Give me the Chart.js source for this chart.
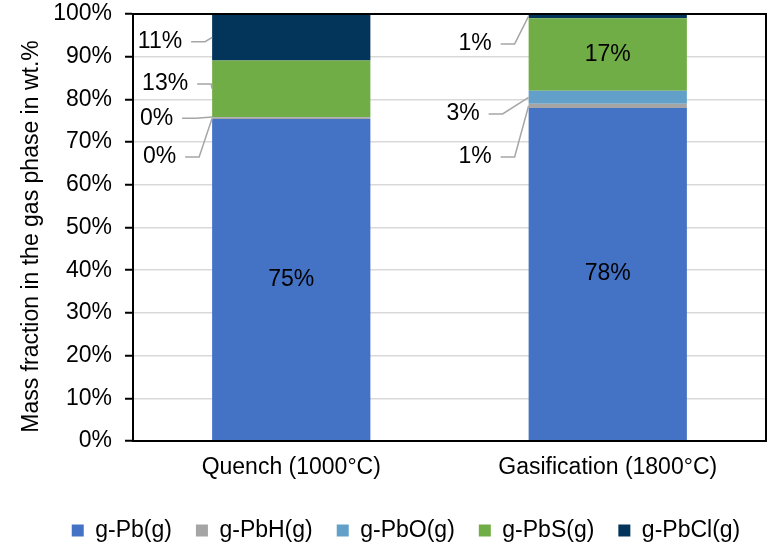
<!DOCTYPE html>
<html>
<head>
<meta charset="utf-8">
<script src="https://cdn.jsdelivr.net/npm/chart.js@4/dist/chart.umd.min.js"></script>
<style>
  html, body { margin: 0; padding: 0; background: #fff; }
  #wrap { width: 769px; height: 545px; }
</style>
</head>
<body>
<div id="wrap"><canvas id="c"></canvas></div>
<script>
// Lead species in the gas phase, wt.% per process stage
const categories = ['Quench (1000°C)', 'Gasification (1800°C)'];
const seriesNames = ['g-Pb(g)', 'g-PbH(g)', 'g-PbO(g)', 'g-PbS(g)', 'g-PbCl(g)'];
const pb   = [75.4, 78.0];
const pbh  = [0.4, 1.0];
const pbo  = [0.1, 3.0];
const pbs  = [13.2, 17.0];
const pbcl = [10.9, 1.0];
const yTickValues = [0, 10, 20, 30, 40, 50, 60, 70, 80, 90, 100];
const yTitle = 'Mass fraction in the gas phase in wt.%';

const seriesColors = ['#4472C4', '#A5A5A5', '#62A0CA', '#70AD47', '#03345A'];

// Where each value label goes: 'in' = centred in the segment,
// otherwise a callout left of the bar (dx = text right edge from bar left, y = axis value)
const labelPlacement = [
  ['in', 'in'],
  [{ dx: -36, y: 66.5 }, { dx: -37, y: 66.5 }],
  [{ dx: -39, y: 75.6 }, { dx: -49, y: 76.6 }],
  [{ dx: -24, y: 83.6 }, 'in'],
  [{ dx: -30, y: 93.5 }, { dx: -37, y: 93.0 }]
];

const FONT = '"Liberation Sans", Arial, sans-serif';
const FS = 23;

const seriesData = [pb, pbh, pbo, pbs, pbcl];
const datasets = seriesNames.map((name, i) => ({
  label: name,
  data: seriesData[i],
  backgroundColor: seriesColors[i],
  borderWidth: 0,
  barPercentage: 0.5,
  categoryPercentage: 1.0
}));

const valueLabels = {
  id: 'valueLabels',
  afterDatasetsDraw(chart) {
    const ctx = chart.ctx;
    const yScale = chart.scales.y;
    ctx.save();
    ctx.font = FS + 'px ' + FONT;
    ctx.textBaseline = 'middle';
    chart.data.datasets.forEach((ds, i) => {
      const meta = chart.getDatasetMeta(i);
      meta.data.forEach((bar, j) => {
        const txt = Math.round(ds.data[j]) + '%';
        const left = bar.x - bar.width / 2;
        const midY = (bar.y + bar.base) / 2;
        const p = labelPlacement[i][j];
        ctx.fillStyle = '#000';
        if (p === 'in') {
          ctx.textAlign = 'center';
          ctx.fillText(txt, bar.x, midY);
        } else {
          const tx = left + p.dx;
          const ty = yScale.getPixelForValue(p.y);
          ctx.textAlign = 'right';
          ctx.fillText(txt, tx, ty);
          ctx.strokeStyle = '#A6A6A6';
          ctx.lineWidth = 1.5;
          ctx.beginPath();
          ctx.moveTo(tx + 9, ty);
          ctx.lineTo(tx + 23, ty);
          ctx.lineTo(left, midY);
          ctx.stroke();
        }
      });
    });
    ctx.restore();
  }
};

// Black frame round the plot area and the rotated y-axis title
const plotFrame = {
  id: 'plotFrame',
  afterDraw(chart) {
    const a = chart.chartArea;
    const ctx = chart.ctx;
    ctx.save();
    ctx.strokeStyle = '#000';
    ctx.lineWidth = 2;
    ctx.strokeRect(a.left, a.top, a.right - a.left, a.bottom - a.top);
    ctx.translate(32, (a.top + a.bottom) / 2 + 9);
    ctx.rotate(-Math.PI / 2);
    ctx.font = FS + 'px ' + FONT;
    ctx.fillStyle = '#000';
    ctx.textAlign = 'center';
    ctx.textBaseline = 'middle';
    ctx.fillText(yTitle, 0, 0);
    ctx.restore();
  }
};

new Chart(document.getElementById('c'), {
  type: 'bar',
  data: { labels: categories, datasets },
  plugins: [valueLabels, plotFrame],
  options: {
    responsive: true,
    maintainAspectRatio: false,
    animation: false,
    layout: { padding: { left: 46, right: 3, top: 14, bottom: -7 } },
    plugins: {
      legend: {
        position: 'bottom',
        labels: {
          boxWidth: 12,
          boxHeight: 12,
          padding: 24,
          color: '#000',
          font: { family: FONT, size: FS }
        }
      },
      tooltip: { enabled: false }
    },
    scales: {
      x: {
        stacked: true,
        grid: { display: false, drawTicks: false },
        border: { color: '#000', width: 2 },
        ticks: { color: '#000', padding: 13, font: { family: FONT, size: FS } },
        afterFit(s) { s.height = 54; s.paddingLeft = 0; s.paddingRight = 0; }
      },
      y: {
        stacked: true,
        min: 0,
        max: 100,
        afterBuildTicks(s) { s.ticks = yTickValues.map(v => ({ value: v })); },
        grid: { color: '#D9D9D9', lineWidth: 1.5, tickColor: '#000', tickLength: 8, tickWidth: 2 },
        border: { color: '#000', width: 2 },
        ticks: { color: '#000', padding: 13, font: { family: FONT, size: FS }, callback: v => v + '%' },
        afterFit(s) { s.width = 87; s.paddingTop = 0; s.paddingBottom = 0; }
      }
    }
  }
});
</script>
</body>
</html>
